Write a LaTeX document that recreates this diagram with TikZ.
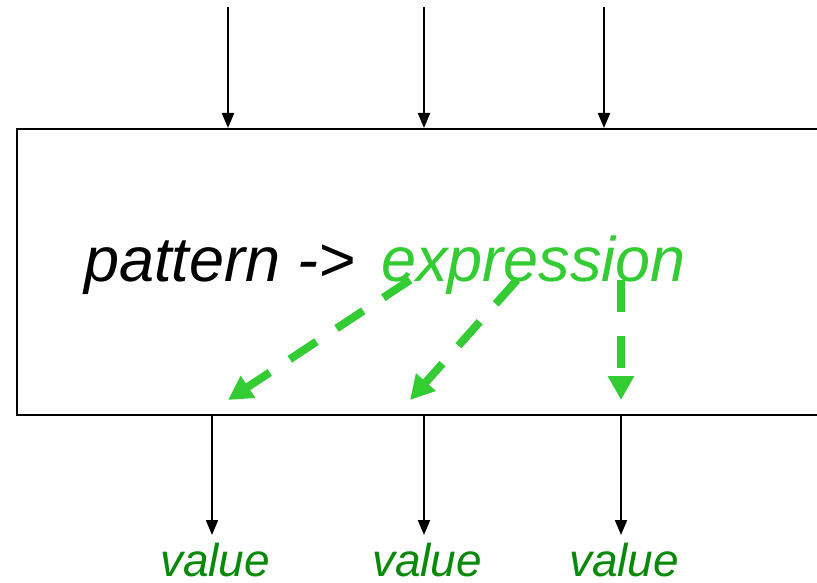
\documentclass[tikz,border=0pt]{standalone}
\usepackage{fontspec}
\setmainfont{Liberation Sans}
\usetikzlibrary{arrows.meta, positioning, calc}
\definecolor{cgreen}{HTML}{33CC33}
\definecolor{cdark}{HTML}{078A07}
\tikzset{
  every picture/.style={x=1pt, y=-1pt, line width=2pt},
  flow/.style={-{Triangle[length=15pt, width=12pt]}, draw=black},
  link/.style={-{Triangle[length=24pt, width=25pt]}, draw=cgreen, line width=8pt, dash pattern=on 32pt off 24pt},
  code/.style={font=\fontsize{63}{63}\selectfont\itshape, inner sep=0pt},
  val/.style={font=\fontsize{46}{46}\selectfont\itshape, text=cdark, inner sep=0pt},
}

\begin{document}
\begin{tikzpicture}
  \clip (0,0) rectangle (817,583);
  % the function box (open on the right)
  \node[draw, line width=2pt, anchor=north west, minimum width=830pt, minimum height=286pt] (box) at (16,128) {};
  \node[code, anchor=base west] (pat) at (83,281) {pattern ->};
  \node[code, text=cgreen, anchor=base west] (expr) at (380,281) {expression};
  % inputs
  \foreach \n/\x in {1/228, 2/424, 3/604} {
    \coordinate (in\n) at (\x,7);
    \draw[flow] (in\n) -- (in\n |- box.north);
  }
  % outputs
  \foreach \n/\x in {1/212, 2/424, 3/621} {
    \node[val, anchor=base] (v\n) at (\x+3,576) {value};
    \coordinate (out\n) at (\x,535);
    \draw[flow] (out\n |- box.south) -- (out\n);
  }
  % expression feeds the values
  \coordinate (e1) at (410,280); \coordinate (t1) at (228,400);
  \coordinate (e2) at (517,280); \coordinate (t2) at (410,400);
  \coordinate (e3) at (621,280); \coordinate (t3) at (621,400);
  \draw[link] (e1) -- (t1);
  \draw[link] (e2) -- (t2);
  \draw[link] (e3) -- (t3);
\end{tikzpicture}
\end{document}
